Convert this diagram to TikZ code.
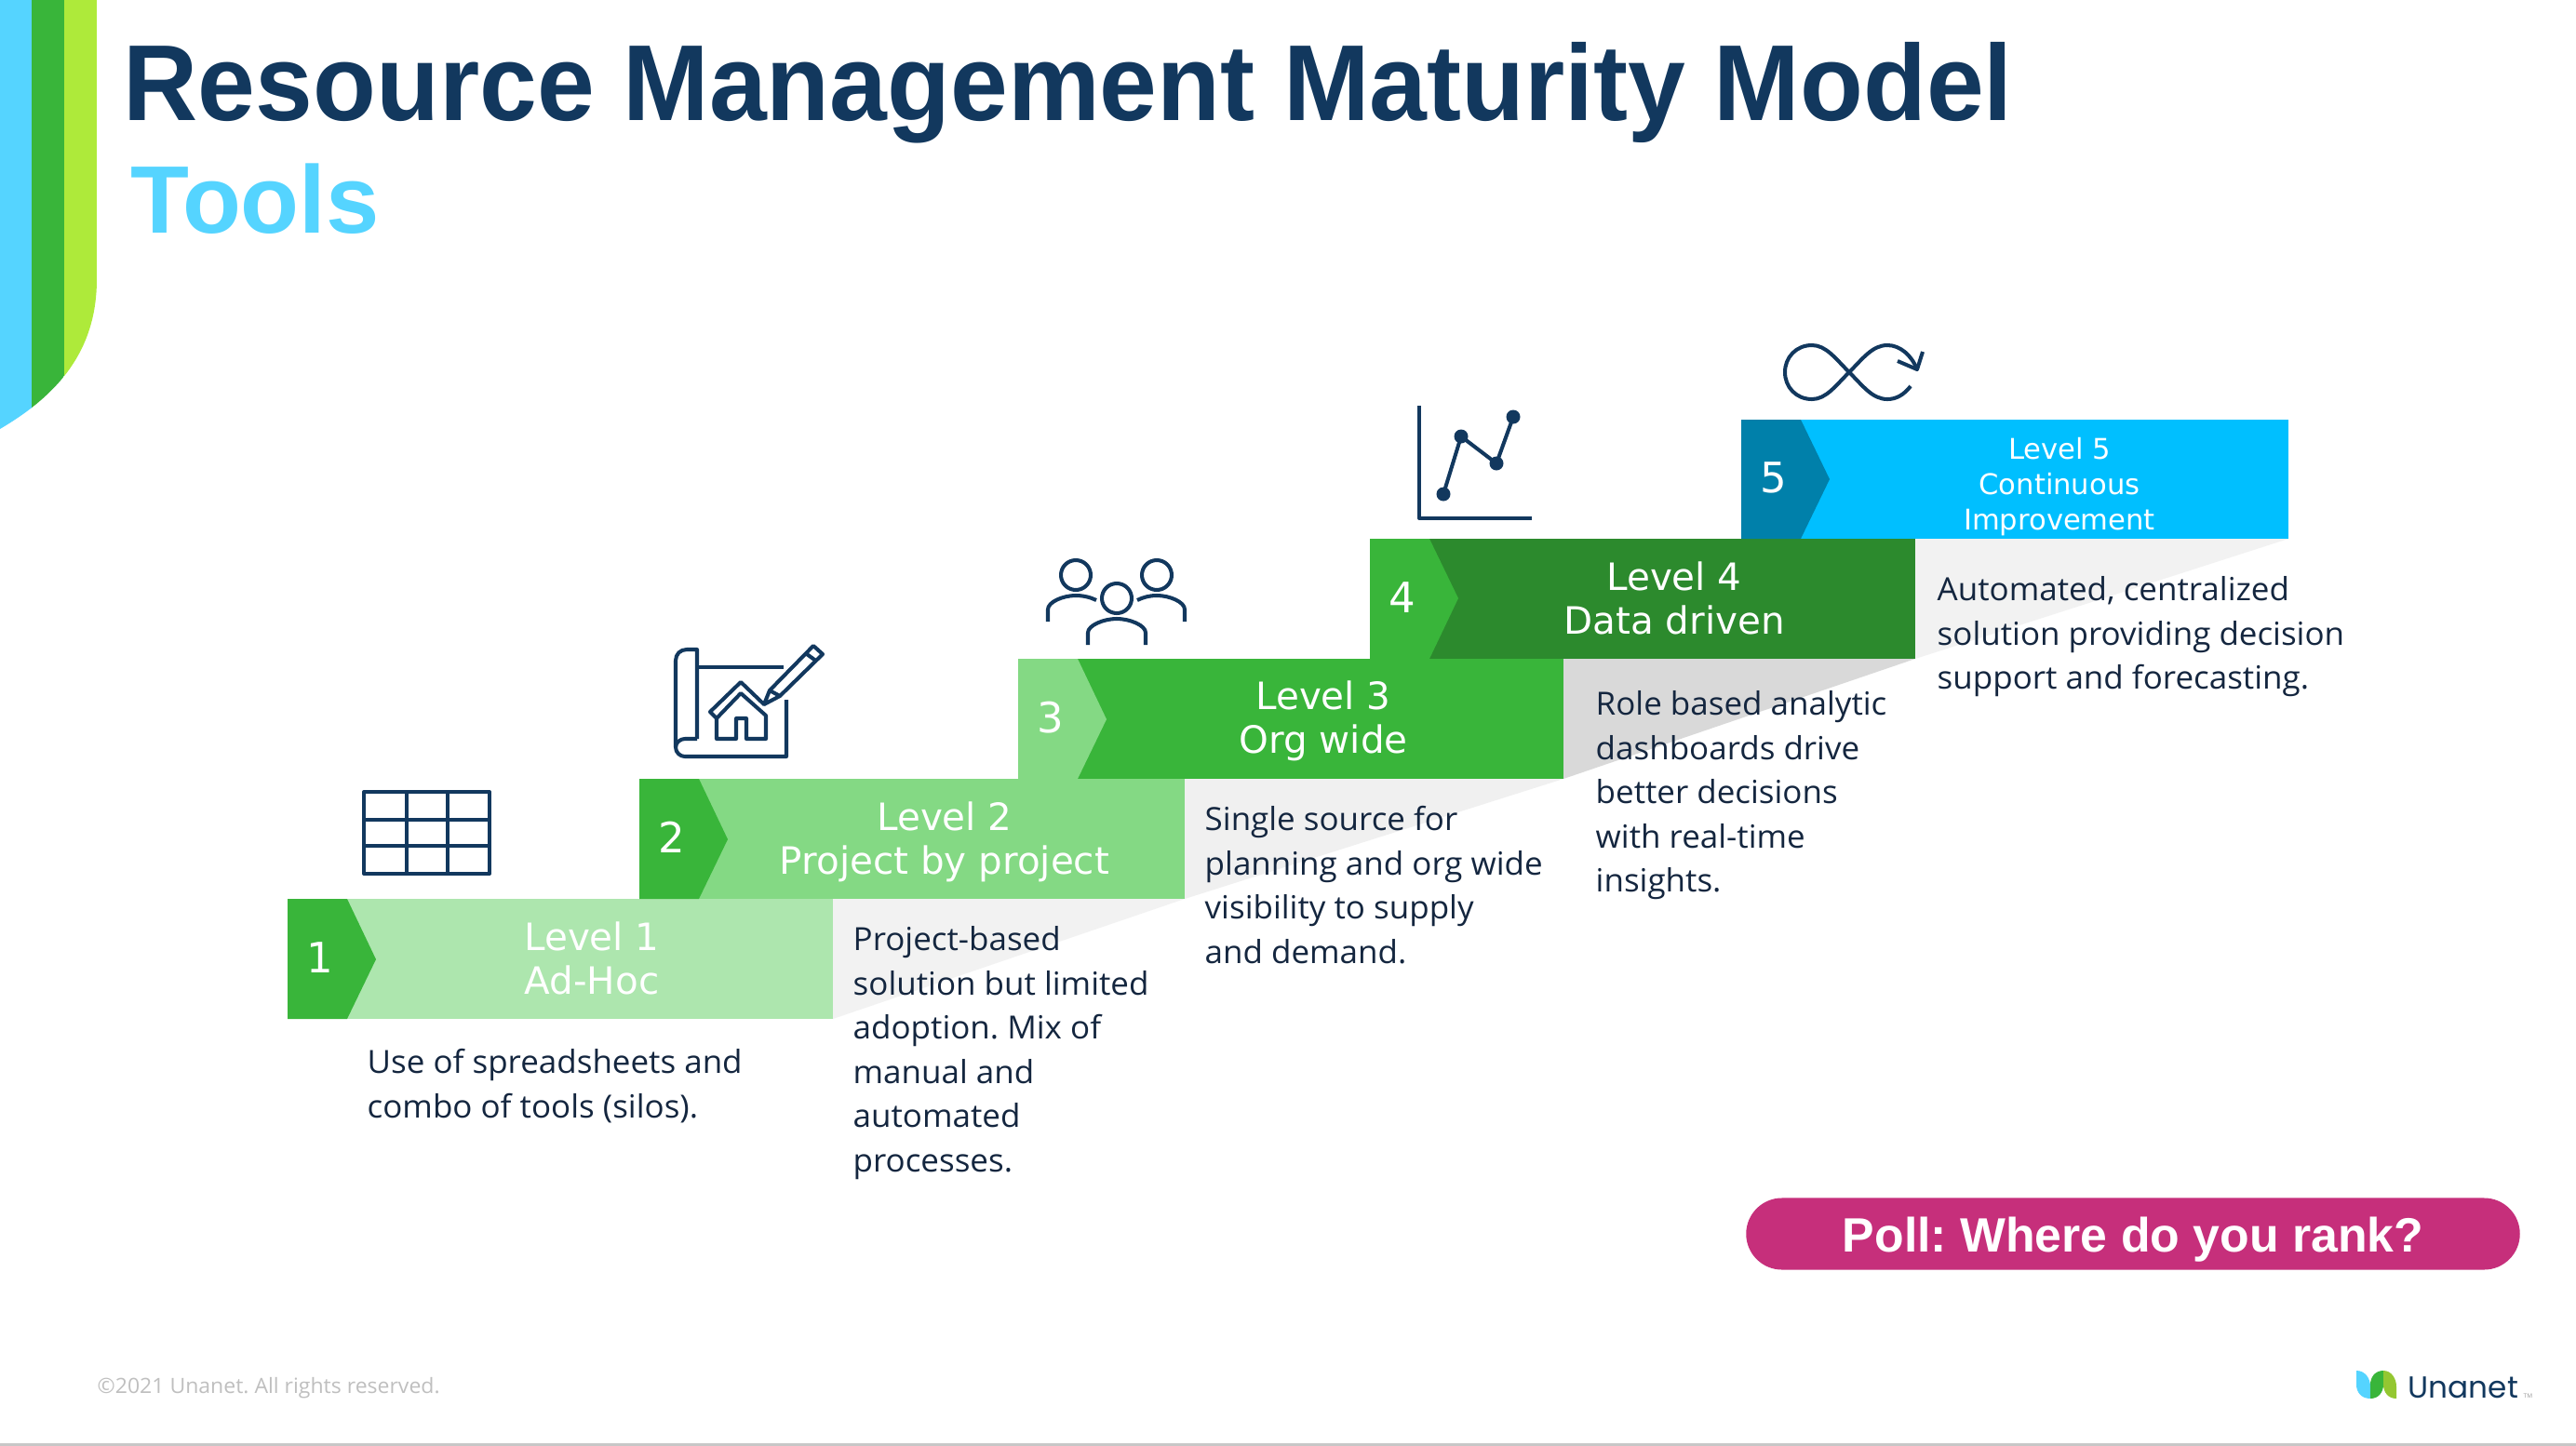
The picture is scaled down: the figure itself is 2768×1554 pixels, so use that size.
\documentclass[tikz,border=0pt]{standalone}
\usepackage{fontspec}
\setmainfont{Open Sans}[FakeStretch=1.02]
\newfontfamily\titlefont{Liberation Sans}
\newfontfamily\headfont{Liberation Sans}[FakeStretch=0.957]
\newfontfamily\barfont{DejaVu Sans}
\newfontfamily\logofont{Poppins}
\definecolor{navy}{HTML}{12385E}
\definecolor{skyline}{HTML}{55D4FF}
\definecolor{midgreen}{HTML}{39B53A}
\definecolor{limegreen}{HTML}{AEEA3A}
\definecolor{paleone}{HTML}{ADE6AE}
\definecolor{paletwo}{HTML}{84D984}
\definecolor{darkfour}{HTML}{2C8A2D}
\definecolor{brightfive}{HTML}{00BFFF}
\definecolor{tealfive}{HTML}{0080AA}
\definecolor{pollpink}{HTML}{C62F7B}
\definecolor{bodyink}{HTML}{14263F}
\begin{document}
\frenchspacing
\begin{tikzpicture}[x=0.01cm,y=-0.01cm]

\tikzset{barlabel/.style={inner sep=0pt,text=white,align=center,font=\barfont\fontsize{11.5}{13.54}\selectfont}}
\tikzset{numlabel/.style={inner sep=0pt,text=white,font=\barfont\fontsize{12.8}{14}\selectfont}}
\tikzset{bodytext/.style={inner sep=0pt,anchor=north west,align=left,text=bodyink,font=\fontsize{9.75}{13.5}\selectfont}}
\tikzset{icon/.style={draw=navy,line width=1.15pt,line join=round}}

  \useasboundingbox (0,0) rectangle (2768,1554);
  \fill[white] (0,0) rectangle (2768,1554);

  % corner stripes
  \begin{scope}
    \clip (0,0) -- (104,0) -- (104,300) .. controls (104,370) and (70,420) .. (0,461) -- cycle;
    \fill[skyline] (0,0) rectangle (34,470);
    \fill[midgreen] (34,0) rectangle (69,470);
    \fill[limegreen] (69,0) rectangle (104,470);
  \end{scope}

  \node[inner sep=0pt,anchor=base west,text=navy,font=\headfont\bfseries\fontsize{33}{36}\selectfont] (title) at (132,129) {Resource Management Maturity Model};
  \node[inner sep=0pt,anchor=base west,text=skyline,font=\titlefont\bfseries\fontsize{29.3}{32}\selectfont] (subtitle) at (140,250) {Tools};

  % shadows
  \fill[black!5] (895,966) -- (1273,966) -- (895,1095) -- cycle;
  \fill[black!6] (1273,837) -- (1680,837) -- (1273,966) -- cycle;
  \fill[black!15] (1680,708) -- (2058,708) -- (1680,837) -- cycle;
  \fill[black!5] (2058,579) -- (2459,579) -- (2058,708) -- cycle;

  % steps
  \fill[paleone] (309,966) rectangle (895,1095);
  \fill[midgreen] (309,966) -- (373,966) -- (404,1031) -- (373,1095) -- (309,1095) -- cycle;
  \fill[paletwo] (687,837) rectangle (1273,966);
  \fill[midgreen] (687,837) -- (751,837) -- (782,902) -- (751,966) -- (687,966) -- cycle;
  \fill[midgreen] (1094,708) rectangle (1680,837);
  \fill[paletwo] (1094,708) -- (1158,708) -- (1189,773) -- (1158,837) -- (1094,837) -- cycle;
  \fill[darkfour] (1472,579) rectangle (2058,708);
  \fill[midgreen] (1472,579) -- (1536,579) -- (1567,643) -- (1536,708) -- (1472,708) -- cycle;
  \fill[brightfive] (1871,451) rectangle (2459,579);
  \fill[tealfive] (1871,451) -- (1935,451) -- (1966,515) -- (1935,579) -- (1871,579) -- cycle;

  \node[numlabel] (n1) at (344,1029) {1};
  \node[numlabel] (n2) at (722,900) {2};
  \node[numlabel] (n3) at (1129,771) {3};
  \node[numlabel] (n4) at (1507,642) {4};
  \node[numlabel] (n5) at (1906,513) {5};

  \node[barlabel] (l1) at (636,1030) {Level 1\\Ad-Hoc};
  \node[barlabel] (l2) at (1015,905) {Level 2\\Project by project};
  \node[barlabel] (l3) at (1422,775) {Level 3\\Org wide};
  \node[barlabel] (l4) at (1799,643) {Level 4\\Data driven};
  \node[barlabel,font=\barfont\fontsize{8.7}{10.7}\selectfont] (l5) at (2213,523) {Level 5\\Continuous\\Improvement};

  \node[bodytext] (d1) at (394,1127) {Use of spreadsheets and\\combo of tools (silos).};
  \node[bodytext] (d2) at (916,995) {Project-based\\solution but limited\\adoption. Mix of\\manual and\\automated\\processes.};
  \node[bodytext] (d3) at (1294,866) {Single source for\\planning and org wide\\visibility to supply\\and demand.};
  \node[bodytext] (d4) at (1714,742) {Role based analytic\\dashboards drive\\better decisions\\with real-time\\insights.};
  \node[bodytext] (d5) at (2081,619) {Automated, centralized\\solution providing decision\\support and forecasting.};

  % spreadsheet
  \draw[icon] (391,851) rectangle (526,939);
  \draw[icon] (437,851) -- (437,939);
  \draw[icon] (481,851) -- (481,939);
  \draw[icon] (391,881) -- (526,881);
  \draw[icon] (391,909) -- (526,909);

  % blueprint
  \draw[icon] (749,794) -- (749,698) -- (738,698) .. controls (731,698) and (726,703) .. (726,710) -- (726,803) .. controls (726,809) and (731,813) .. (736,813) -- (845,813) -- (845,752);
  \draw[icon] (749,794) -- (736,794) .. controls (731,794) and (726,798) .. (726,803);
  \draw[icon] (749,717) -- (842,717);
  \draw[icon] (821,757) -- (796,733) -- (763,765) -- (770,772) -- (796,745) -- (823,769) -- (823,794) -- (802,794) -- (802,772) -- (791,772) -- (791,794) -- (770,794) -- (770,769);
  \draw[icon] (821,757) -- (827,742) -- (874,694) -- (884,703) -- (838,748) -- cycle;
  \draw[icon] (867,703) -- (878,711);
  \draw[icon] (827,742) -- (838,748);

  % people
  \draw[icon] (1156,618) circle (16);
  \draw[icon] (1243,618) circle (16);
  \draw[icon] (1200,643) circle (16);
  \draw[icon] (1126,668) -- (1126,655) .. controls (1126,647) and (1142,640) .. (1156,640) .. controls (1164,640) and (1172,642) .. (1178,645);
  \draw[icon] (1273,668) -- (1273,655) .. controls (1273,647) and (1257,640) .. (1243,640) .. controls (1235,640) and (1228,642) .. (1222,645);
  \draw[icon] (1169,693) -- (1169,680) .. controls (1169,672) and (1186,665) .. (1200,665) .. controls (1214,665) and (1231,672) .. (1231,680) -- (1231,693);

  % chart
  \draw[icon] (1525,436) -- (1525,557) -- (1646,557);
  \draw[icon] (1551,531) -- (1570,469) -- (1608,498) -- (1626,448);
  \fill[navy] (1551,531) circle (7.5);
  \fill[navy] (1570,469) circle (7.5);
  \fill[navy] (1608,498) circle (7.5);
  \fill[navy] (1626,448) circle (7.5);

  % infinity loop
  \draw[icon] (2053,415) .. controls (2046,424) and (2038,429) .. (2028,429) .. controls (2012,429) and (2002,415) .. (1987,400) .. controls (1972,385) and (1962,371) .. (1947,371) .. controls (1930,371) and (1918,384) .. (1918,400) .. controls (1918,416) and (1930,429) .. (1947,429) .. controls (1962,429) and (1972,415) .. (1987,400) .. controls (2002,385) and (2012,371) .. (2028,371) .. controls (2042,371) and (2054,382) .. (2060,397);
  \draw[icon] (2039,388) -- (2060,397) -- (2066,378);

  % poll
  \node[fill=pollpink,rounded corners=0.385cm,minimum width=8.31cm,minimum height=0.77cm,inner sep=0pt,text=white,text height=13pt,text depth=2.2pt,font=\titlefont\bfseries\fontsize{14.72}{16}\selectfont] (poll) at (2292,1326) {Poll: Where do you rank?};

  % footer
  \node[inner sep=0pt,anchor=west,text=black!25,font=\fontsize{6.42}{8}\selectfont] (copyright) at (104,1492) {©2021 Unanet. All rights reserved.};
  \fill[skyline] (2532,1473) .. controls (2542,1473) and (2547,1482) .. (2547,1490) -- (2547,1503) .. controls (2537,1503) and (2532,1496) .. (2532,1488) -- cycle;
  \fill[midgreen] (2547,1503) -- (2547,1488) .. controls (2547,1480) and (2552,1473) .. (2561,1473) -- (2561,1488) .. controls (2561,1496) and (2556,1503) .. (2547,1503) -- cycle;
  \fill[limegreen!85!black] (2561,1473) .. controls (2570,1473) and (2575,1482) .. (2575,1490) -- (2575,1503) .. controls (2566,1503) and (2561,1496) .. (2561,1488) -- cycle;
  \node[inner sep=0pt,anchor=base west,text=navy,font=\logofont\fontsize{9.3}{11}\selectfont] (brand) at (2587,1502) {Unanet};
  \node[inner sep=0pt,anchor=base west,text=black!40,font=\fontsize{1.8}{2}\selectfont] (brandmark) at (2711,1502) {TM};
  \fill[black!22] (0,1551) rectangle (2768,1554);

\end{tikzpicture}
\end{document}
